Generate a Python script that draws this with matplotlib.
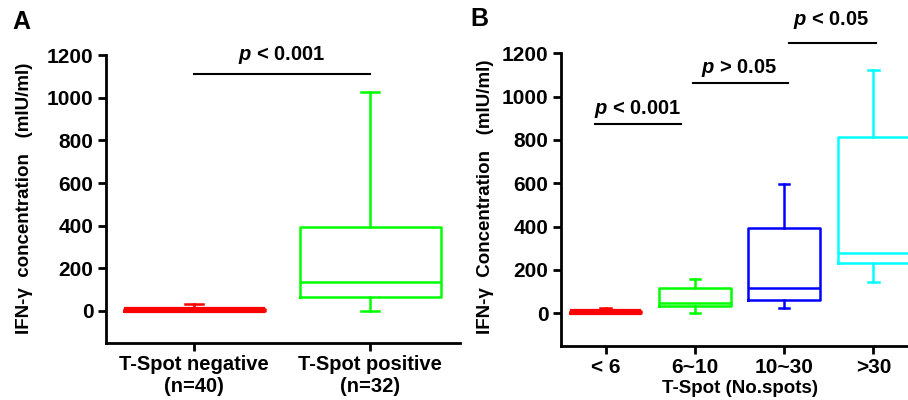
import matplotlib.pyplot as plt

plt.rcParams['font.family'] = ['Liberation Sans', 'DejaVu Sans']
plt.rcParams['font.weight'] = 'bold'
plt.rcParams['mathtext.fontset'] = 'custom'
plt.rcParams['mathtext.rm'] = 'Liberation Sans:bold'
plt.rcParams['mathtext.bfit'] = 'Liberation Sans:italic:bold'

# Panel A: T-Spot negative vs positive
a_labels = ['T-Spot negative\n(n=40)', 'T-Spot positive\n(n=32)']
a_whislo = [0, 0]
a_q1 = [0, 67]
a_med = [3, 137]
a_q3 = [9, 395]
a_whishi = [31, 1025]
a_colors = ['#FF0000', '#00FF00']

# Panel B: by number of spots
b_labels = ['< 6', '6~10', '10~30', '>30']
b_whislo = [0, 0, 22, 142]
b_q1 = [0, 31, 63, 233]
b_med = [3, 46, 117, 280]
b_q3 = [9, 117, 393, 815]
b_whishi = [25, 156, 597, 1125]
b_colors = ['#FF0000', '#00FF00', '#0000FF', '#00FFFF']

# significance bars: (x0, x1, y, text, text_x, text_y)
a_sig = [(0, 1, 1110, r'$\mathbfit{p}$ < 0.001', 0.5, 1200)]
b_sig = [(-0.12, 0.84, 873, r'$\mathbfit{p}$ < 0.001', 0.36, 945),
         (0.98, 2.04, 1063, r'$\mathbfit{p}$ > 0.05', 1.5, 1132),
         (2.05, 3.03, 1247, r'$\mathbfit{p}$ < 0.05', 2.53, 1352)]


def make_stats(lo, q1, med, q3, hi):
    return [dict(whislo=lo[i], q1=q1[i], med=med[i], q3=q3[i], whishi=hi[i], fliers=[])
            for i in range(len(med))]


def style_axis(ax):
    for s in ['top', 'right']:
        ax.spines[s].set_visible(False)
    for s in ['left', 'bottom']:
        ax.spines[s].set_linewidth(2)
    ax.tick_params(width=2, length=6, labelsize=15, pad=3)
    ax.set_ylim(-150, 1200)
    ax.set_yticks([0, 200, 400, 600, 800, 1000, 1200])


def draw_boxes(ax, stats, colors, capw):
    for i, st in enumerate(stats):
        c = colors[i]
        ax.bxp([st], positions=[i], widths=0.8, showfliers=False, capwidths=capw,
               boxprops=dict(color=c, linewidth=1.8),
               medianprops=dict(color=c, linewidth=1.8),
               whiskerprops=dict(color=c, linewidth=1.8),
               capprops=dict(color=c, linewidth=1.8))


fig = plt.figure(figsize=(9.08, 4), dpi=100)

axA = fig.add_axes([106 / 908, 1 - 343 / 400, 354 / 908, 288 / 400])
draw_boxes(axA, make_stats(a_whislo, a_q1, a_med, a_q3, a_whishi), a_colors, 0.1)
# thick red bar for negative group
axA.plot([-0.4, 0.4], [4, 4], color='#FF0000', lw=4.5, solid_capstyle='butt', zorder=3)
style_axis(axA)
axA.set_xlim(-0.5, 1.51)
axA.set_xticks([0, 1])
axA.set_xticklabels(a_labels, fontsize=14.5, linespacing=1.2)
for x0, x1, y, t, tx, ty in a_sig:
    axA.plot([x0, x1], [y, y], color='black', lw=1.5, clip_on=False)
    axA.text(tx, ty, t, ha='center', va='center', fontsize=14.5, fontweight='bold')

axB = fig.add_axes([561 / 908, 1 - 345.7 / 400, 357 / 908, 292.4 / 400])
draw_boxes(axB, make_stats(b_whislo, b_q1, b_med, b_q3, b_whishi), b_colors, 0.12)
axB.plot([-0.4, 0.4], [4, 4], color='#FF0000', lw=4.5, solid_capstyle='butt', zorder=3)
style_axis(axB)
axB.set_xlim(-0.5, 3.5)
axB.set_xticks([0, 1, 2, 3])
axB.set_xticklabels(b_labels, fontsize=15)
axB.set_xlabel('T-Spot (No.spots)', fontsize=13.5, fontweight='bold', labelpad=2)
for x0, x1, y, t, tx, ty in b_sig:
    axB.plot([x0, x1], [y, y], color='black', lw=1.5, clip_on=False)
    axB.text(tx, ty, t, ha='center', va='center', fontsize=14.5, fontweight='bold', clip_on=False)

fig.text(25 / 908, 1 - 198 / 400, 'IFN-γ  concentration   (mIU/ml)', rotation=90,
         ha='center', va='center', fontsize=13.5, fontweight='bold')
fig.text(485 / 908, 1 - 197 / 400, 'IFN-γ  Concentration   (mIU/ml)', rotation=90,
         ha='center', va='center', fontsize=13.5, fontweight='bold')
fig.text(12 / 908, 1 - 22 / 400, 'A', ha='left', va='center', fontsize=18, fontweight='bold')
fig.text(470 / 908, 1 - 19 / 400, 'B', ha='left', va='center', fontsize=18, fontweight='bold')

fig.savefig('out.png', dpi=100)
